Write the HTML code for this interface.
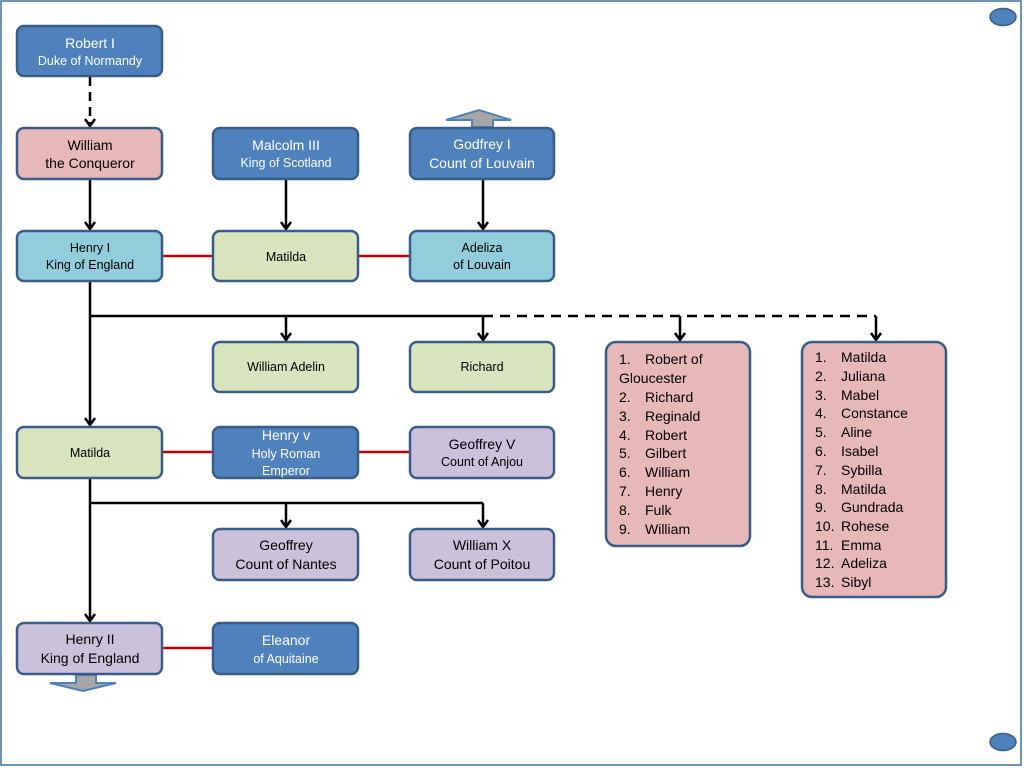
<!DOCTYPE html>
<html><head><meta charset="utf-8"><style>
html,body{margin:0;padding:0;background:#fff;}
svg{display:block;font-family:"Liberation Sans",Calibri,sans-serif;}
</style></head><body>
<svg width="1024" height="768" viewBox="0 0 1024 768" xmlns="http://www.w3.org/2000/svg">
<defs>
<marker id="ah" markerWidth="14" markerHeight="14" refX="6" refY="10" orient="0" markerUnits="userSpaceOnUse">
<path d="M1,3 L6,10 L11,3" fill="none" stroke="#000" stroke-width="2.5"/>
</marker>
</defs>
<rect x="1" y="1" width="1020" height="764" fill="#fff" stroke="#41719c" stroke-width="1.5"/>
<ellipse cx="1003" cy="17" rx="13" ry="8.5" fill="#4f81bd" stroke="#385d8a" stroke-width="1.5"/>
<ellipse cx="1003" cy="742" rx="13" ry="8.5" fill="#4f81bd" stroke="#385d8a" stroke-width="1.5"/>

<g stroke="#000" stroke-width="2.5" fill="none">
<line x1="90" y1="77" x2="90" y2="126" stroke-dasharray="9,6" marker-end="url(#ah)"/>
<line x1="90" y1="180" x2="90" y2="229" marker-end="url(#ah)"/>
<line x1="286" y1="180" x2="286" y2="229" marker-end="url(#ah)"/>
<line x1="483" y1="180" x2="483" y2="229" marker-end="url(#ah)"/>
<line x1="90" y1="282" x2="90" y2="425" marker-end="url(#ah)"/>
<polyline points="90,316 483,316"/>
<line x1="286" y1="316" x2="286" y2="340" marker-end="url(#ah)"/>
<line x1="483" y1="316" x2="483" y2="340" marker-end="url(#ah)"/>
<line x1="483" y1="316" x2="876" y2="316" stroke-dasharray="10,7"/>
<line x1="680" y1="316" x2="680" y2="340" marker-end="url(#ah)"/>
<line x1="876" y1="316" x2="876" y2="340" marker-end="url(#ah)"/>
<line x1="90" y1="479" x2="90" y2="621" marker-end="url(#ah)"/>
<polyline points="90,503 483,503"/>
<line x1="286" y1="503" x2="286" y2="527" marker-end="url(#ah)"/>
<line x1="483" y1="503" x2="483" y2="527" marker-end="url(#ah)"/>
</g>
<g stroke="#c00000" stroke-width="2.5">
<line x1="162" y1="256" x2="213" y2="256"/>
<line x1="358" y1="256" x2="410" y2="256"/>
<line x1="162" y1="452" x2="213" y2="452"/>
<line x1="358" y1="452" x2="410" y2="452"/>
<line x1="162" y1="648" x2="213" y2="648"/>
</g>
<polygon points="472,127 472,120 446,120 479,110 511,120 493,120 493,127" fill="#a6a6a6" stroke="#4f81bd" stroke-width="2"/>
<polygon points="76,675 76,683 50,683 83,691 116,683 96,683 96,675" fill="#a6a6a6" stroke="#4f81bd" stroke-width="2"/>

<g stroke="#385d8a" stroke-width="2.5">
<rect x="17" y="26" width="145" height="50" rx="7" fill="#4f81bd"/>
<rect x="17" y="128" width="145" height="51" rx="7" fill="#e6b9b8"/>
<rect x="213" y="128" width="145" height="51" rx="7" fill="#4f81bd"/>
<rect x="410" y="128" width="144" height="51" rx="7" fill="#4f81bd"/>
<rect x="17" y="231" width="145" height="50" rx="7" fill="#92cddc"/>
<rect x="213" y="231" width="145" height="50" rx="7" fill="#d7e4bd"/>
<rect x="410" y="231" width="144" height="50" rx="7" fill="#92cddc"/>
<rect x="213" y="342" width="145" height="50" rx="7" fill="#d7e4bd"/>
<rect x="410" y="342" width="144" height="50" rx="7" fill="#d7e4bd"/>
<rect x="606" y="342" width="144" height="204" rx="10" fill="#e6b9b8"/>
<rect x="802" y="342" width="144" height="255" rx="10" fill="#e6b9b8"/>
<rect x="17" y="427" width="145" height="51" rx="7" fill="#d7e4bd"/>
<rect x="213" y="427" width="145" height="51" rx="7" fill="#4f81bd"/>
<rect x="410" y="427" width="144" height="51" rx="7" fill="#ccc1da"/>
<rect x="213" y="529" width="145" height="51" rx="7" fill="#ccc1da"/>
<rect x="410" y="529" width="144" height="51" rx="7" fill="#ccc1da"/>
<rect x="17" y="623" width="145" height="51" rx="7" fill="#ccc1da"/>
<rect x="213" y="623" width="145" height="51" rx="7" fill="#4f81bd"/>
</g>

<g text-anchor="middle" font-size="14">
<text x="90" y="48" fill="#fff">Robert I</text>
<text x="90" y="65" fill="#fff" font-size="12.5">Duke of Normandy</text>
<text x="90" y="150">William</text>
<text x="90" y="168">the Conqueror</text>
<text x="286" y="150" fill="#fff">Malcolm III</text>
<text x="286" y="167" fill="#fff" font-size="12.5">King of Scotland</text>
<text x="482" y="149" fill="#fff">Godfrey I</text>
<text x="482" y="168" fill="#fff">Count of Louvain</text>
<text x="90" y="252" font-size="12.5">Henry I</text>
<text x="90" y="269" font-size="12.5">King of England</text>
<text x="286" y="261" font-size="12.5">Matilda</text>
<text x="482" y="252" font-size="12.5">Adeliza</text>
<text x="482" y="269" font-size="12.5">of Louvain</text>
<text x="286" y="371" font-size="12.5">William Adelin</text>
<text x="482" y="371" font-size="12.5">Richard</text>
<text x="90" y="457" font-size="12.5">Matilda</text>
<text x="286" y="440" fill="#fff">Henry v</text>
<text x="286" y="458" fill="#fff" font-size="12.5">Holy Roman</text>
<text x="286" y="475" fill="#fff" font-size="12.5">Emperor</text>
<text x="482" y="449">Geoffrey V</text>
<text x="482" y="466" font-size="12.5">Count of Anjou</text>
<text x="286" y="550">Geoffrey</text>
<text x="286" y="569">Count of Nantes</text>
<text x="482" y="550">William X</text>
<text x="482" y="569">Count of Poitou</text>
<text x="90" y="644">Henry II</text>
<text x="90" y="663">King of England</text>
<text x="286" y="645" fill="#fff">Eleanor</text>
<text x="286" y="663" fill="#fff" font-size="12.5">of Aquitaine</text>
</g>

<g font-size="14">
<text x="619" y="364">1.</text><text x="645" y="364">Robert of</text>
<text x="619" y="383">Gloucester</text>
<text x="619" y="402">2.</text><text x="645" y="402">Richard</text>
<text x="619" y="421">3.</text><text x="645" y="421">Reginald</text>
<text x="619" y="440">4.</text><text x="645" y="440">Robert</text>
<text x="619" y="458">5.</text><text x="645" y="458">Gilbert</text>
<text x="619" y="477">6.</text><text x="645" y="477">William</text>
<text x="619" y="496">7.</text><text x="645" y="496">Henry</text>
<text x="619" y="515">8.</text><text x="645" y="515">Fulk</text>
<text x="619" y="534">9.</text><text x="645" y="534">William</text>

<text x="815" y="362">1.</text><text x="841" y="362">Matilda</text>
<text x="815" y="381">2.</text><text x="841" y="381">Juliana</text>
<text x="815" y="400">3.</text><text x="841" y="400">Mabel</text>
<text x="815" y="418">4.</text><text x="841" y="418">Constance</text>
<text x="815" y="437">5.</text><text x="841" y="437">Aline</text>
<text x="815" y="456">6.</text><text x="841" y="456">Isabel</text>
<text x="815" y="475">7.</text><text x="841" y="475">Sybilla</text>
<text x="815" y="494">8.</text><text x="841" y="494">Matilda</text>
<text x="815" y="512">9.</text><text x="841" y="512">Gundrada</text>
<text x="815" y="531">10.</text><text x="841" y="531">Rohese</text>
<text x="815" y="550">11.</text><text x="841" y="550">Emma</text>
<text x="815" y="568">12.</text><text x="841" y="568">Adeliza</text>
<text x="815" y="587">13.</text><text x="841" y="587">Sibyl</text>
</g>
</svg>
</body></html>
